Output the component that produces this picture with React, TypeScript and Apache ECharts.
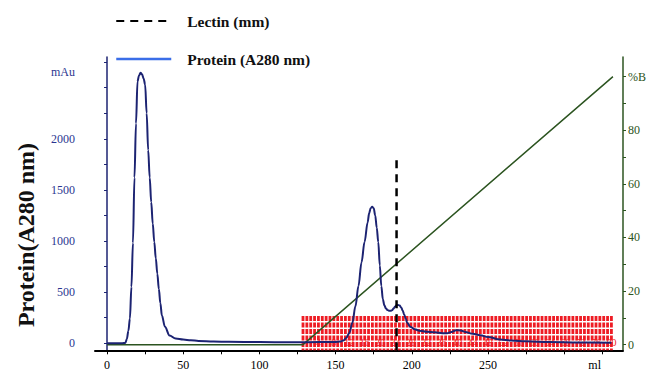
import React, { useEffect, useRef } from 'react';
import * as echarts from 'echarts';

// Protein absorbance trace (elution volume ml, mAu)
const proteinMl = [
  0, 5, 10, 12, 13, 14, 15, 16, 17, 18, 19, 20, 21, 22, 23, 24, 25, 26, 27, 28, 29, 30, 31, 32, 33, 34, 35, 36, 38, 41, 45, 50,
  55, 60, 70, 80, 100, 120, 140, 150, 153, 155, 157, 159, 161, 163, 165, 167, 169, 171, 172, 173, 174, 175, 176, 177, 178, 179,
  180, 181, 182, 183, 184, 185, 186, 187, 188, 189, 190, 191, 192, 193, 194, 195, 196, 197, 199, 202, 205, 210, 215, 220, 223,
  226, 229, 232, 235, 240, 245, 250, 258, 265, 275, 290, 310, 331,
];
const proteinMau = [
  0, 0, 0, 2, 40, 120, 240, 550, 980, 1620, 2150, 2560, 2620, 2645, 2630, 2590, 2530, 2250, 1890, 1620, 1380, 1170, 990, 830, 680,
  530, 390, 270, 160, 75, 45, 35,
  28, 22, 16, 13, 10, 9, 10, 12, 15, 25, 50, 100, 200, 360, 560, 790, 990, 1180, 1270, 1320, 1334, 1320, 1250, 1130, 990, 760,
  560, 430, 370, 340, 325, 318, 316, 322, 338, 358, 370, 374, 368, 350, 320, 280, 240, 200, 160, 135, 122, 112, 106, 98, 97,
  110, 127, 124, 110, 92, 78, 60, 35, 25, 18, 10, 6, 4,
];

// Gradient (%B)
const gradientMl = [0, 128.6, 332];
const gradientPercentB = [0, 0, 100];

// Lectin marker
const lectinMl = [190, 190];
const lectinLevel = [-70, 1812];

// Fraction collector marks
const fractionStartMl = 128.6;
const fractionSizeMl = 2.53;
const fractionCount = 80;
const fractionTopMau = 266;

// Axes
const xTickValues = [0, 25, 50, 75, 100, 125, 150, 175, 200, 225, 250, 275, 300, 325];
const xLabelValues = [0, 50, 100, 150, 200, 250, 320];
const xUnitAt = 320;
const leftTickValues = [0, 250, 500, 750, 1000, 1250, 1500, 1750, 2000, 2250, 2500, 2750];
const leftLabelValues = [0, 500, 1000, 1500, 2000, 2650];
const leftUnitAt = 2650;
const rightTickValues = [0, 10, 20, 30, 40, 50, 60, 70, 80, 90, 100];
const rightLabelValues = [0, 20, 40, 60, 80, 100];

const SERIF = '"Liberation Serif", "Times New Roman", serif';
const NAVY = '#1c2372';
const GREEN = '#2c5420';
const RED = '#ee1c24';

export default function App() {
  const ref = useRef<HTMLDivElement>(null);
  useEffect(() => {
    if (!ref.current) return;
    const chart = echarts.init(ref.current, null, { renderer: 'svg' });
    const fractions = Array.from({ length: fractionCount + 1 }, (_, i) => [fractionStartMl + i * fractionSizeMl, i]);
    chart.setOption({
      animation: false,
      backgroundColor: '#fff',
      grid: { left: 95, right: 31, top: 57, bottom: 33.7 },
      legend: {
        orient: 'vertical',
        left: 115,
        top: 13,
        padding: 0,
        itemWidth: 55,
        itemHeight: 14,
        itemGap: 22,
        selectedMode: false,
        itemStyle: { opacity: 0 },
        data: [
          { name: 'Lectin (mm)', itemStyle: { opacity: 0 } },
          {
            name: 'Protein (A280 nm)',
            lineStyle: { color: '#3a6ee8', width: 2.5 },
            itemStyle: { color: '#3a6ee8', opacity: 0 },
          },
        ],
        textStyle: { fontFamily: SERIF, fontWeight: 'bold', fontSize: 15.5, color: '#111', padding: [0, 0, 0, 11] },
      },
      xAxis: {
        type: 'value',
        min: -7.9,
        max: 338.6,
        splitLine: { show: false },
        axisLine: { onZero: false, lineStyle: { color: '#000', width: 2 } },
        axisTick: { customValues: xTickValues, length: 4, lineStyle: { color: '#000', width: 1 } },
        axisLabel: {
          customValues: xLabelValues,
          margin: 9,
          color: '#000',
          fontFamily: SERIF,
          fontSize: 12,
          formatter: (v: number) => (v === xUnitAt ? 'ml' : String(v)),
        },
      },
      yAxis: [
        {
          type: 'value',
          min: -70,
          max: 2800,
          splitLine: { show: false },
          axisLine: { show: true, lineStyle: { color: NAVY, width: 1.5 } },
          axisTick: { customValues: leftTickValues, length: 3, lineStyle: { color: NAVY } },
          axisLabel: {
            customValues: leftLabelValues,
            margin: 20,
            color: '#2a3590',
            fontFamily: SERIF,
            fontSize: 12,
            formatter: (v: number) => (v === leftUnitAt ? 'mAu' : String(v)),
          },
        },
        {
          type: 'value',
          position: 'right',
          min: -2.1,
          max: 107.3,
          splitLine: { show: false },
          axisLine: { show: true, lineStyle: { color: GREEN, width: 1.5 } },
          axisTick: { customValues: rightTickValues, length: 3, lineStyle: { color: GREEN } },
          axisLabel: {
            customValues: rightLabelValues,
            margin: 5,
            color: GREEN,
            fontFamily: SERIF,
            fontSize: 12,
            formatter: (v: number) => (v === 100 ? '%B' : String(v)),
          },
        },
      ],
      graphic: [
        {
          type: 'text',
          x: 26,
          y: 235,
          rotation: Math.PI / 2,
          style: {
            text: 'Protein(A280 nm)',
            font: 'bold 24px "Liberation Serif", serif',
            fill: '#111',
            textAlign: 'center',
            textVerticalAlign: 'middle',
          },
        },
      ],
      series: [
        {
          type: 'custom',
          xAxisIndex: 0,
          yAxisIndex: 0,
          z: 1,
          silent: true,
          data: fractions,
          renderItem: (params: any, api: any) => {
            const x = api.value(0);
            const n = api.value(1);
            const top = api.coord([x, fractionTopMau]);
            const bot = api.coord([x, -70]);
            const base = api.coord([x, 0]);
            const children: any[] = [
              {
                type: 'line',
                shape: { x1: top[0], y1: top[1], x2: bot[0], y2: bot[1] },
                style: { stroke: RED, lineWidth: 2.8, lineDash: [5, 1.5] },
              },
            ];
            if (n > 0 && n % 4 === 0) {
              children.push({
                type: 'text',
                style: {
                  text: String(n),
                  x: base[0],
                  y: base[1] - 1,
                  fill: RED,
                  font: '10px "Liberation Serif", serif',
                  textAlign: 'center',
                  textVerticalAlign: 'middle',
                },
              });
            }
            return { type: 'group', children };
          },
        },
        {
          name: '%B',
          type: 'line',
          yAxisIndex: 1,
          symbol: 'none',
          z: 3,
          data: gradientMl.map((m, i) => [m, gradientPercentB[i]]),
          lineStyle: { color: GREEN, width: 1.5 },
          itemStyle: { color: GREEN },
        },
        {
          name: 'Protein (A280 nm)',
          type: 'line',
          yAxisIndex: 0,
          symbol: 'none',
          smooth: 0.35,
          smoothMonotone: 'x',
          z: 4,
          data: proteinMl.map((m, i) => [m, proteinMau[i]]),
          lineStyle: { color: NAVY, width: 2 },
          itemStyle: { color: NAVY },
        },
        {
          name: 'Lectin (mm)',
          type: 'line',
          yAxisIndex: 0,
          symbol: 'none',
          z: 5,
          data: lectinMl.map((m, i) => [m, lectinLevel[i]]),
          lineStyle: { color: '#000', width: 2.5, type: [8, 6] },
          itemStyle: { color: '#000' },
        },
      ],
    });
    return () => chart.dispose();
  }, []);
  return <div ref={ref} style={{ position: 'fixed', left: 0, top: 0, width: 654, height: 384 }} />;
}
